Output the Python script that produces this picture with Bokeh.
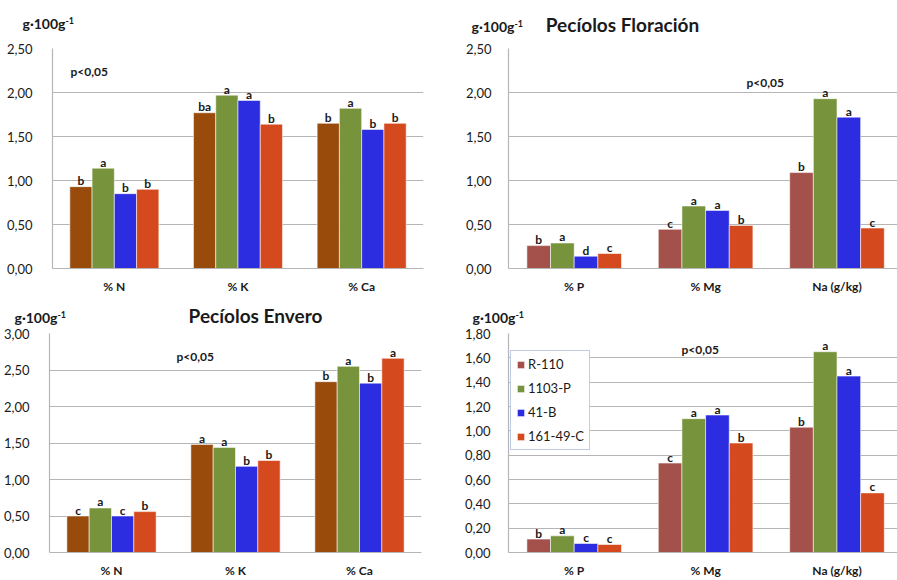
from bokeh.plotting import figure
from bokeh.layouts import column, row
from bokeh.models import Range1d, FixedTicker, CustomJSTickFormatter, Label, Legend, LegendItem, ColumnDataSource
from bokeh.core.properties import value
from bokeh.embed import file_html
from bokeh.resources import INLINE

# ---- data -------------------------------------------------------------
rootstocks = ["R-110", "1103-P", "41-B", "161-49-C"]

macro_cats = ["% N", "% K", "% Ca"]
micro_cats = ["% P", "% Mg", "Na (g/kg)"]

# Pecíolos Floración: N, K, Ca
flor_macro_r110 = [0.93, 1.77, 1.65]
flor_macro_p1103 = [1.14, 1.97, 1.82]
flor_macro_b41 = [0.85, 1.91, 1.58]
flor_macro_c161 = [0.90, 1.64, 1.65]
flor_macro_sig = [["b", "ba", "b"], ["a", "a", "a"], ["b", "a", "b"], ["b", "b", "b"]]

# Pecíolos Floración: P, Mg, Na
flor_micro_r110 = [0.26, 0.445, 1.09]
flor_micro_p1103 = [0.29, 0.71, 1.93]
flor_micro_b41 = [0.14, 0.66, 1.72]
flor_micro_c161 = [0.17, 0.49, 0.46]
flor_micro_sig = [["b", "c", "b"], ["a", "a", "a"], ["d", "a", "a"], ["c", "b", "c"]]

# Pecíolos Envero: N, K, Ca
env_macro_r110 = [0.50, 1.48, 2.34]
env_macro_p1103 = [0.61, 1.44, 2.55]
env_macro_b41 = [0.50, 1.18, 2.32]
env_macro_c161 = [0.56, 1.26, 2.66]
env_macro_sig = [["c", "a", "b"], ["a", "a", "a"], ["c", "b", "b"], ["b", "b", "a"]]

# Pecíolos Envero: P, Mg, Na
env_micro_r110 = [0.11, 0.735, 1.03]
env_micro_p1103 = [0.137, 1.10, 1.65]
env_micro_b41 = [0.074, 1.13, 1.45]
env_micro_c161 = [0.066, 0.90, 0.49]
env_micro_sig = [["b", "c", "b"], ["a", "a", "a"], ["c", "a", "a"], ["c", "b", "c"]]

# ---- style ------------------------------------------------------------
FONT = "Lato"
BROWN = "#984B0B"
BRICK = "#A4504B"
GREEN = "#77933C"
BLUE = "#2C2CE0"
ORANGE = "#D4491E"
GRID = "#B5B5B5"
INK = "#1A1A1A"

OFFSETS = [-0.27, -0.09, 0.09, 0.27]
BAR_W = 0.18


def header(width, height, unit_at, title=None, title_at=None):
    """Strip above a chart holding the unit and the chart title (top-down pixel space)."""
    h = figure(width=width, height=height, output_backend="svg", toolbar_location=None,
               x_range=Range1d(0, width), y_range=Range1d(height, 0),
               x_axis_type=None, y_axis_type=None,
               min_border=0, background_fill_color="white", border_fill_color="white")
    h.frame_align = False
    h.grid.visible = False
    h.outline_line_color = None
    h.title.visible = False
    ux, uy = unit_at
    h.text(x=[ux], y=[uy], text=["g·100g"], text_font=value(FONT), text_font_style="bold",
           text_font_size="14px", text_color=INK, text_baseline="middle")
    h.text(x=[ux + 43], y=[uy - 3], text=["-1"], text_font=value(FONT), text_font_style="bold",
           text_font_size="9px", text_color=INK, text_baseline="middle")
    if title:
        tx, ty = title_at
        h.text(x=[tx], y=[ty], text=[title], text_font=value(FONT), text_font_style="bold",
               text_font_size="19px", text_color=INK, text_align="center",
               text_baseline="middle")
    return h


def chart(width, height, borders, cats, series, sig, colors, y_max, y_step,
          x_end, p_pos, label_gap=13, legend=None):
    left, right, top, bottom = borders
    p = figure(width=width, height=height, output_backend="svg", toolbar_location=None,
               x_range=Range1d(0.5, x_end), y_range=Range1d(0, y_max),
               min_border_left=left, min_border_right=right,
               min_border_top=top, min_border_bottom=bottom,
               background_fill_color="white", border_fill_color="white")
    p.frame_align = False
    p.title.visible = False
    p.outline_line_color = None
    p.xgrid.grid_line_color = None
    p.ygrid.grid_line_color = GRID
    p.ygrid.grid_line_width = 1.2

    n = int(round(y_max / y_step))
    p.yaxis.ticker = FixedTicker(ticks=[round(i * y_step, 2) for i in range(n + 1)])
    p.yaxis.formatter = CustomJSTickFormatter(code="return tick.toFixed(2).replace('.', ',');")
    p.xaxis.ticker = FixedTicker(ticks=[1, 2, 3])
    p.xaxis.major_label_overrides = {i + 1: c for i, c in enumerate(cats)}

    for ax in (p.xaxis, p.yaxis):
        ax.axis_line_color = GRID
        ax.axis_line_width = 1.2
        ax.major_tick_line_color = None
        ax.minor_tick_line_color = None
        ax.major_label_text_font = FONT
        ax.major_label_text_color = INK
    p.yaxis.major_label_text_font_size = "13px"
    p.yaxis.major_label_standoff = label_gap
    p.xaxis.major_label_text_font_size = "12px"
    p.xaxis.major_label_text_font_style = "bold"
    p.xaxis.major_label_standoff = 4

    items = []
    for k, (vals, col) in enumerate(zip(series, colors)):
        xs = [i + 1 + OFFSETS[k] for i in range(len(vals))]
        src = ColumnDataSource(dict(x=xs, top=vals, sig=sig[k]))
        r = p.vbar(x="x", top="top", width=BAR_W, source=src, fill_color=col,
                   line_color="white", line_alpha=0.55, line_width=1)
        items.append(LegendItem(label=rootstocks[k], renderers=[r]))
        p.text(x="x", y="top", text="sig", source=src, text_font=value(FONT),
               text_font_style="bold", text_font_size="12px", text_color=INK,
               text_align="center", text_baseline="alphabetic", y_offset=-6)

    p.add_layout(Label(x=0.5, y=y_max, x_units="data", y_units="data",
                       x_offset=p_pos[0], y_offset=p_pos[1], text="p<0,05",
                       text_font=FONT, text_font_size="12px", text_font_style="bold",
                       text_color=INK, text_baseline="middle"))

    if legend:
        lg = Legend(items=items, location=legend, orientation="vertical",
                    glyph_width=9, glyph_height=9, label_height=14, spacing=8,
                    padding=5, margin=0, label_standoff=3,
                    label_text_font=FONT, label_text_font_size="13px", label_text_color=INK,
                    border_line_color="#7E9CCB", border_line_width=1,
                    background_fill_color="white", background_fill_alpha=1)
        p.add_layout(lg, "center")
    return p


colors_a = [BROWN, GREEN, BLUE, ORANGE]
colors_b = [BRICK, GREEN, BLUE, ORANGE]

right_end = 0.5 + 389 / 131.4

h1 = header(448, 40, unit_at=(22, 23))
p1 = chart(448, 260, (52, 25, 8, 32), macro_cats,
           [flor_macro_r110, flor_macro_p1103, flor_macro_b41, flor_macro_c161],
           flor_macro_sig, colors_a, 2.5, 0.5, 3.5, p_pos=(18, -23), label_gap=14)

h2 = header(449, 40, unit_at=(23, 26), title="Pecíolos Floración", title_at=(174, 24))
p2 = chart(449, 260, (60, 0, 8, 32), micro_cats,
           [flor_micro_r110, flor_micro_p1103, flor_micro_b41, flor_micro_c161],
           flor_micro_sig, colors_b, 2.5, 0.5, right_end, p_pos=(238, -34), label_gap=11)

h3 = header(448, 26, unit_at=(14, 17), title="Pecíolos Envero", title_at=(255, 15))
p3 = chart(448, 254, (49, 27, 7, 28), macro_cats,
           [env_macro_r110, env_macro_p1103, env_macro_b41, env_macro_c161],
           env_macro_sig, colors_a, 3.0, 0.5, 3.5, p_pos=(127, -23), label_gap=14)

h4 = header(449, 26, unit_at=(24, 17))
p4 = chart(449, 254, (60, 0, 7, 28), micro_cats,
           [env_micro_r110, env_micro_p1103, env_micro_b41, env_micro_c161],
           env_micro_sig, colors_b, 1.8, 0.2, right_end, p_pos=(173, -16), label_gap=12,
           legend=(2, 102))

layout = column(row(column(h1, p1), column(h2, p2)),
                row(column(h3, p3), column(h4, p4)))

open("out.html", "w").write(file_html(layout, INLINE))
